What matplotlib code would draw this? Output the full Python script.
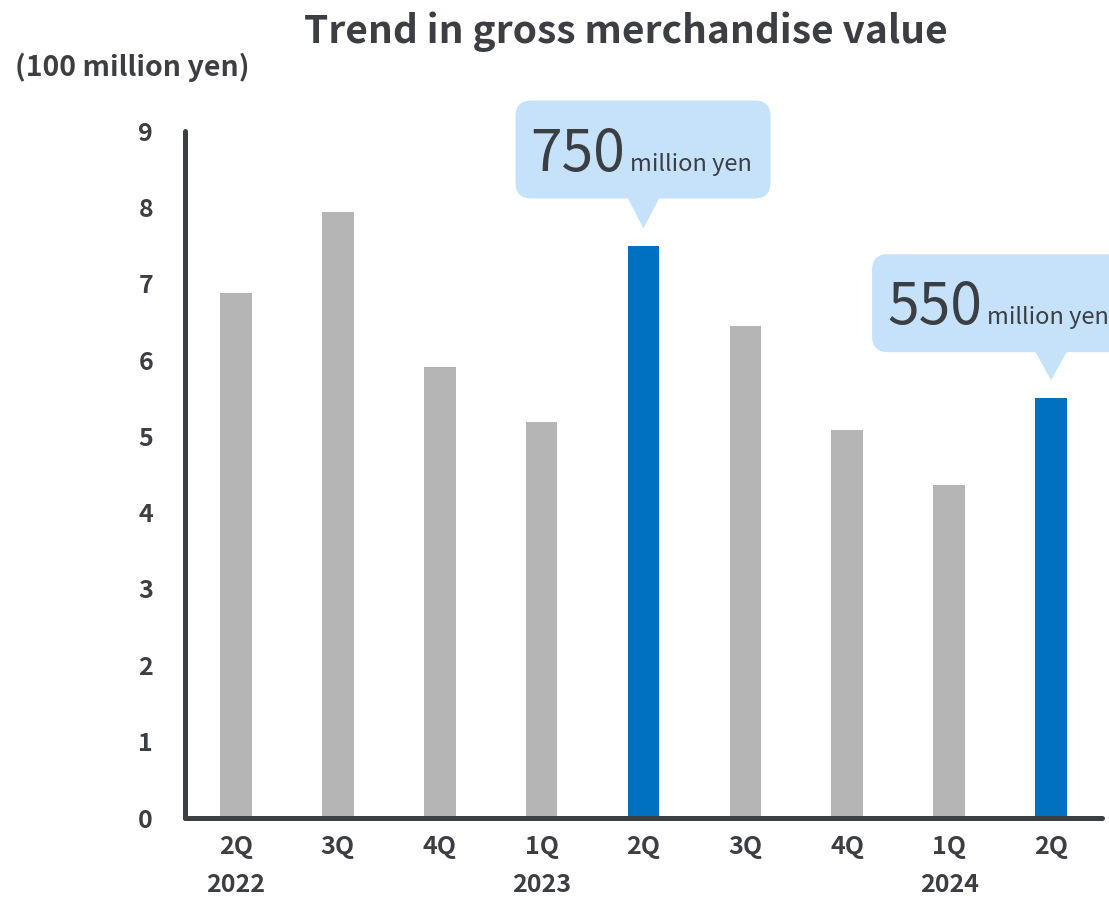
import matplotlib

matplotlib.use("Agg")
import matplotlib.pyplot as plt
from matplotlib.patches import FancyBboxPatch, Polygon
from matplotlib.transforms import IdentityTransform, blended_transform_factory

# Gross merchandise value per quarter, in 100 million yen
quarters = ["2Q", "3Q", "4Q", "1Q", "2Q", "3Q", "4Q", "1Q", "2Q"]
years = {0: "2022", 3: "2023", 7: "2024"}
gmv = [6.88, 7.94, 5.91, 5.19, 7.5, 6.45, 5.08, 4.36, 5.5]
highlight = [4, 8]
callout_values = {4: "750", 8: "550"}

DARK = "#3b3e43"
GRAY = "#b5b5b5"
BLUE = "#0070c0"
BUBBLE = "#c5e2fa"

plt.rcParams["font.family"] = ["Noto Sans CJK JP", "DejaVu Sans"]

W, H = 1109, 898
fig = plt.figure(figsize=(W / 100, H / 100), dpi=100)
ax = fig.add_axes([185 / W, (H - 818) / H, (1102 - 185) / W, (818 - 131) / H])

colors = [BLUE if i in highlight else GRAY for i in range(len(gmv))]
ax.bar(range(len(gmv)), gmv, width=0.31, color=colors, zorder=2)

ax.set_xlim(-0.5, 8.5)
ax.set_ylim(0, 9)
ax.set_yticks(range(10))
ax.set_xticks(range(len(quarters)))
ax.set_xticklabels(quarters)
ax.tick_params(length=0, colors=DARK, labelsize=18)
ax.tick_params(axis="y", pad=23)
ax.tick_params(axis="x", pad=12)
for lbl in ax.get_xticklabels() + ax.get_yticklabels():
    lbl.set_fontweight("bold")

for side in ("top", "right"):
    ax.spines[side].set_visible(False)
for side in ("left", "bottom"):
    ax.spines[side].set_linewidth(3.6)
    ax.spines[side].set_color(DARK)
    ax.spines[side].set_capstyle("round")

# year labels under the first quarter of each year
year_tr = blended_transform_factory(ax.transData, fig.transFigure)
for i, yr in years.items():
    ax.text(i, (H - 885) / H, yr, transform=year_tr, ha="center", va="center",
            fontsize=18, fontweight="bold", color=DARK)

fig.text(626 / W, (H - 43) / H, "Trend in gross merchandise value", ha="center",
         va="baseline", fontsize=28, fontweight="bold", color=DARK)
fig.text(15 / W, (H - 76) / H, "(100 million yen)", ha="left", va="baseline",
         fontsize=20.5, fontweight="bold", color=DARK)


def callout(i, box_left, box_w=255, box_h=98, gap_bottom=47, gap_apex=17):
    """Speech bubble above bar i; offsets are in pixels from the bar top."""
    x, y = ax.transData.transform((i, gmv[i]))
    left = x + box_left
    bottom = y + gap_bottom
    box = FancyBboxPatch((left, bottom), box_w, box_h,
                         boxstyle="round,pad=0,rounding_size=16",
                         transform=IdentityTransform(), facecolor=BUBBLE,
                         edgecolor="none", clip_on=False)
    fig.patches.append(box)
    tip = Polygon([(x - 16, bottom + 1), (x + 16, bottom + 1), (x, y + gap_apex)],
                  closed=True, transform=IdentityTransform(), facecolor=BUBBLE,
                  edgecolor="none", clip_on=False)
    fig.patches.append(tip)
    baseline = bottom + 28
    big = fig.text(left + 15, baseline, callout_values[i], transform=IdentityTransform(),
                   ha="left", va="baseline", fontsize=41, color=DARK)
    fig.canvas.draw()
    ext = big.get_window_extent()
    fig.text(ext.x1 + 5, baseline, "million yen", transform=IdentityTransform(),
             ha="left", va="baseline", fontsize=17, color=DARK)


callout(4, -128)
callout(8, -179, gap_bottom=46, gap_apex=18)

fig.savefig("out.png", dpi=100)
